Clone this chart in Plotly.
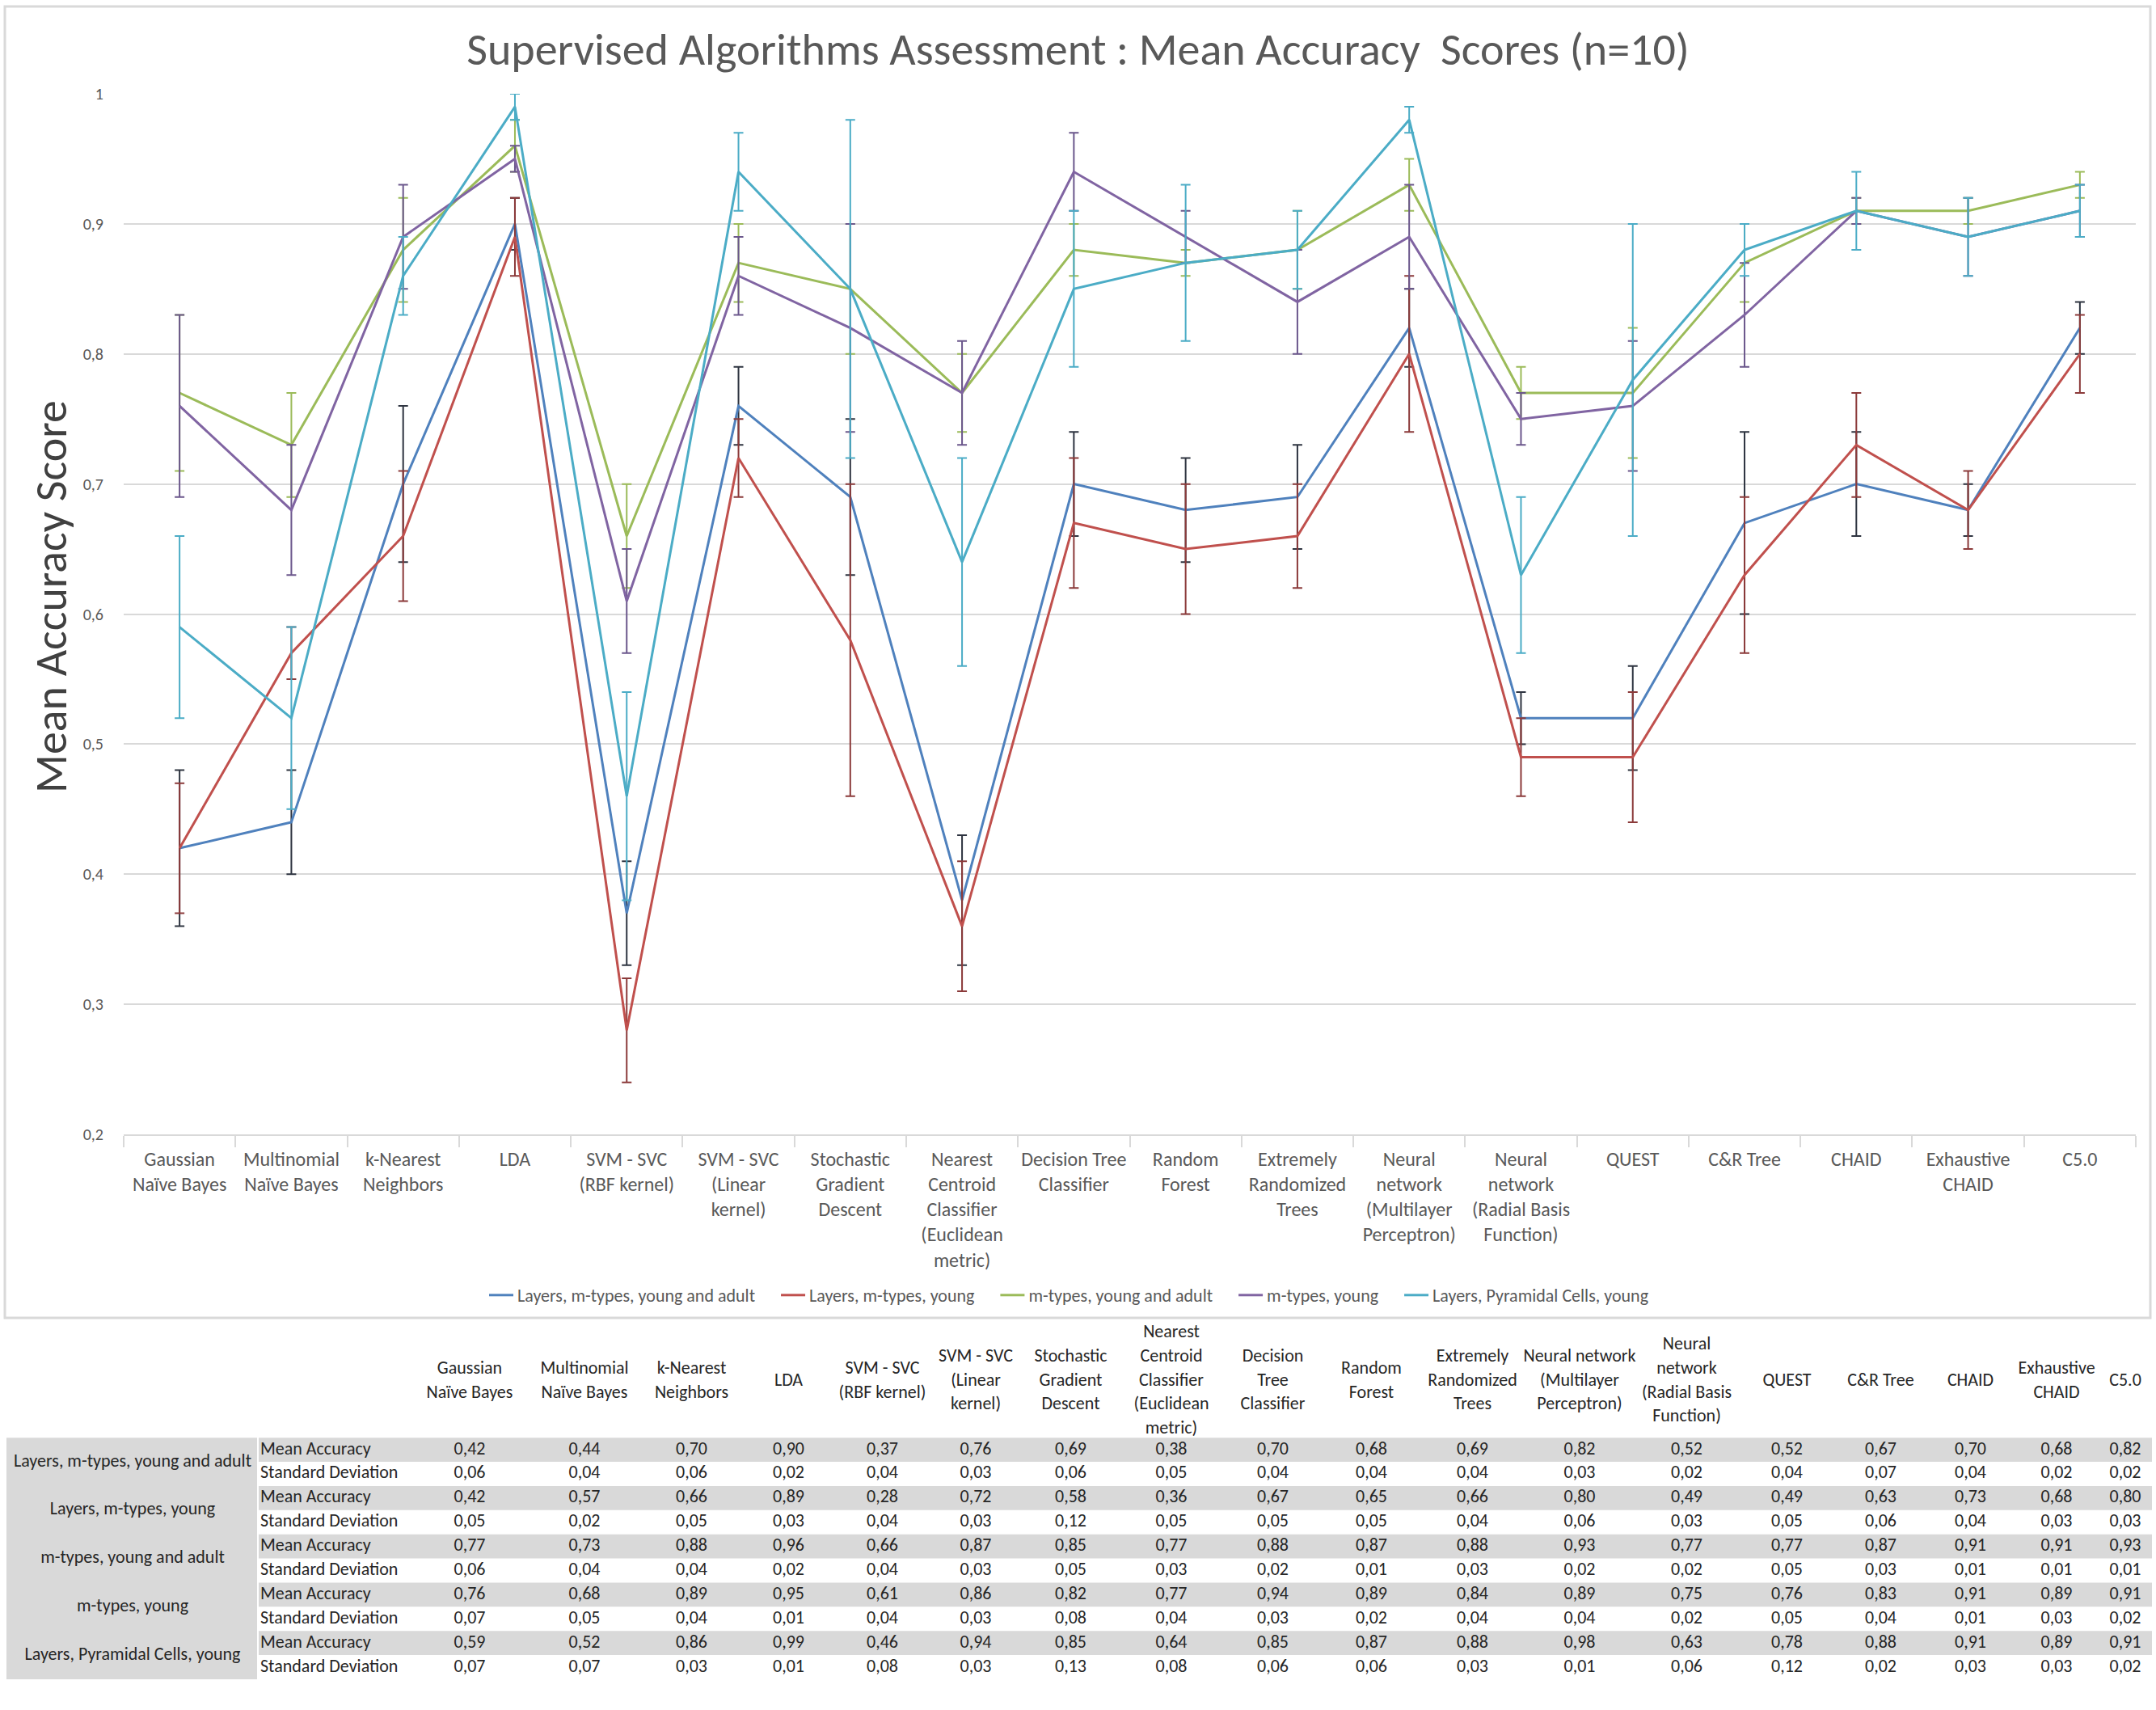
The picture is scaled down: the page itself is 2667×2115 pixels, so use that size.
import plotly.graph_objects as go

FONT = "Carlito, Lato, sans-serif"

# ---------------- data ----------------
algorithms = [
    "Gaussian Naïve Bayes", "Multinomial Naïve Bayes", "k-Nearest Neighbors", "LDA",
    "SVM - SVC (RBF kernel)", "SVM - SVC (Linear kernel)", "Stochastic Gradient Descent",
    "Nearest Centroid Classifier (Euclidean metric)", "Decision Tree Classifier",
    "Random Forest", "Extremely Randomized Trees", "Neural network (Multilayer Perceptron)",
    "Neural network (Radial Basis Function)", "QUEST", "C&R Tree", "CHAID",
    "Exhaustive CHAID", "C5.0",
]

# tick labels under the chart
chart_labels = [
    "Gaussian<br>Naïve Bayes", "Multinomial<br>Naïve Bayes", "k-Nearest<br>Neighbors", "LDA",
    "SVM - SVC<br>(RBF kernel)", "SVM - SVC<br>(Linear<br>kernel)", "Stochastic<br>Gradient<br>Descent",
    "Nearest<br>Centroid<br>Classifier<br>(Euclidean<br>metric)", "Decision Tree<br>Classifier",
    "Random<br>Forest", "Extremely<br>Randomized<br>Trees", "Neural<br>network<br>(Multilayer<br>Perceptron)",
    "Neural<br>network<br>(Radial Basis<br>Function)", "QUEST", "C&R Tree", "CHAID",
    "Exhaustive<br>CHAID", "C5.0",
]

# column headers of the table
table_headers = [
    "Gaussian<br>Naïve Bayes", "Multinomial<br>Naïve Bayes", "k-Nearest<br>Neighbors", "LDA",
    "SVM - SVC<br>(RBF kernel)", "SVM - SVC<br>(Linear<br>kernel)", "Stochastic<br>Gradient<br>Descent",
    "Nearest<br>Centroid<br>Classifier<br>(Euclidean<br>metric)", "Decision<br>Tree<br>Classifier",
    "Random<br>Forest", "Extremely<br>Randomized<br>Trees", "Neural network<br>(Multilayer<br>Perceptron)",
    "Neural<br>network<br>(Radial Basis<br>Function)", "QUEST", "C&R Tree", "CHAID",
    "Exhaustive<br>CHAID", "C5.0",
]

series_names = [
    "Layers, m-types, young and adult",
    "Layers, m-types, young",
    "m-types, young and adult",
    "m-types, young",
    "Layers, Pyramidal Cells, young",
]

mean_layers_mtypes_young_adult = [0.42, 0.44, 0.70, 0.90, 0.37, 0.76, 0.69, 0.38, 0.70,
                                  0.68, 0.69, 0.82, 0.52, 0.52, 0.67, 0.70, 0.68, 0.82]
std_layers_mtypes_young_adult = [0.06, 0.04, 0.06, 0.02, 0.04, 0.03, 0.06, 0.05, 0.04,
                                 0.04, 0.04, 0.03, 0.02, 0.04, 0.07, 0.04, 0.02, 0.02]

mean_layers_mtypes_young = [0.42, 0.57, 0.66, 0.89, 0.28, 0.72, 0.58, 0.36, 0.67,
                            0.65, 0.66, 0.80, 0.49, 0.49, 0.63, 0.73, 0.68, 0.80]
std_layers_mtypes_young = [0.05, 0.02, 0.05, 0.03, 0.04, 0.03, 0.12, 0.05, 0.05,
                           0.05, 0.04, 0.06, 0.03, 0.05, 0.06, 0.04, 0.03, 0.03]

mean_mtypes_young_adult = [0.77, 0.73, 0.88, 0.96, 0.66, 0.87, 0.85, 0.77, 0.88,
                           0.87, 0.88, 0.93, 0.77, 0.77, 0.87, 0.91, 0.91, 0.93]
std_mtypes_young_adult = [0.06, 0.04, 0.04, 0.02, 0.04, 0.03, 0.05, 0.03, 0.02,
                          0.01, 0.03, 0.02, 0.02, 0.05, 0.03, 0.01, 0.01, 0.01]

mean_mtypes_young = [0.76, 0.68, 0.89, 0.95, 0.61, 0.86, 0.82, 0.77, 0.94,
                     0.89, 0.84, 0.89, 0.75, 0.76, 0.83, 0.91, 0.89, 0.91]
std_mtypes_young = [0.07, 0.05, 0.04, 0.01, 0.04, 0.03, 0.08, 0.04, 0.03,
                    0.02, 0.04, 0.04, 0.02, 0.05, 0.04, 0.01, 0.03, 0.02]

mean_layers_pyramidal_young = [0.59, 0.52, 0.86, 0.99, 0.46, 0.94, 0.85, 0.64, 0.85,
                               0.87, 0.88, 0.98, 0.63, 0.78, 0.88, 0.91, 0.89, 0.91]
std_layers_pyramidal_young = [0.07, 0.07, 0.03, 0.01, 0.08, 0.03, 0.13, 0.08, 0.06,
                              0.06, 0.03, 0.01, 0.06, 0.12, 0.02, 0.03, 0.03, 0.02]

means = [mean_layers_mtypes_young_adult, mean_layers_mtypes_young,
         mean_mtypes_young_adult, mean_mtypes_young, mean_layers_pyramidal_young]
stds = [std_layers_mtypes_young_adult, std_layers_mtypes_young,
        std_mtypes_young_adult, std_mtypes_young, std_layers_pyramidal_young]

row_types = ["Mean Accuracy", "Standard Deviation"]
y_ticks = [0.2, 0.3, 0.4, 0.5, 0.6, 0.7, 0.8, 0.9, 1.0]

# ---------------- styles ----------------
line_colors = ["#4f81bd", "#c0504d", "#9bbb59", "#8064a2", "#4bacc6"]
err_colors = ["#2e3440", "#8b3a3a", "#9bbb59", "#6b578c", "#4bacc6"]
GRID = "#d9d9d9"
TXT = "#595959"
TBL_TXT = "#262626"

W, H = 2667, 2115

# table geometry (pixels across, rows down)
label_w, type_w = 312, 189
value_w = [144, 140, 125, 115, 117, 114, 121, 128, 123, 121, 129, 136, 129, 119, 113, 109, 104, 66]
table_left = 8
header_h = 4.69
line_step = 1.0
n_rows = 2 * len(series_names)
tbl_font = dict(family=FONT, size=22, color=TBL_TXT)


def fmt(v):
    return f"{v:.2f}".replace(".", ",")


fig = go.Figure()

# ---------------- chart ----------------
for name, m, s, col, ecol in zip(series_names, means, stds, line_colors, err_colors):
    fig.add_trace(go.Scatter(
        x=chart_labels, y=m, name=name + "\u2003", mode="lines",
        line=dict(color=col, width=3),
        error_y=dict(type="data", array=s, visible=True, color=ecol, thickness=2, width=6),
        xaxis="x", yaxis="y",
    ))

# ---------------- table ----------------
type_x0 = table_left + label_w
val_x0 = type_x0 + type_w
edges = [val_x0]
for w in value_w:
    edges.append(edges[-1] + w)
centers = [(a + b) / 2 for a, b in zip(edges[:-1], edges[1:])]

shapes = []
# group label column
shapes.append(dict(type="rect", xref="x2", yref="y2", x0=table_left, x1=type_x0 - 2,
                   y0=0, y1=n_rows, fillcolor=GRID, line=dict(width=0), layer="below"))
for i in range(len(series_names)):
    shapes.append(dict(type="rect", xref="x2", yref="y2", x0=type_x0, x1=edges[-1],
                       y0=2 * i, y1=2 * i + 1, fillcolor=GRID, line=dict(width=0), layer="below"))

# chart border
shapes.append(dict(type="rect", xref="paper", yref="paper",
                   x0=6 / W, x1=2660 / W, y0=1 - 1630 / H, y1=1 - 8 / H,
                   line=dict(color=GRID, width=3), fillcolor="rgba(0,0,0,0)"))

# values
vx, vy, vt = [], [], []
for i in range(len(series_names)):
    for r, arr in enumerate([means[i], stds[i]]):
        for j, v in enumerate(arr):
            vx.append(centers[j])
            vy.append(2 * i + r + 0.5)
            vt.append(fmt(v))
fig.add_trace(go.Scatter(x=vx, y=vy, text=vt, mode="text", textposition="middle center",
                         textfont=tbl_font, showlegend=False, hoverinfo="skip",
                         xaxis="x2", yaxis="y2", cliponaxis=False))

# row type labels
tx, ty, tt = [], [], []
for i in range(len(series_names)):
    for r, lab in enumerate(row_types):
        tx.append(type_x0 + 2)
        ty.append(2 * i + r + 0.5)
        tt.append(lab)
fig.add_trace(go.Scatter(x=tx, y=ty, text=tt, mode="text", textposition="middle right",
                         textfont=tbl_font, showlegend=False, hoverinfo="skip",
                         xaxis="x2", yaxis="y2", cliponaxis=False))

# group labels
fig.add_trace(go.Scatter(x=[table_left + label_w / 2] * len(series_names),
                         y=[2 * i + 1 for i in range(len(series_names))],
                         text=series_names, mode="text", textposition="middle center",
                         textfont=tbl_font, showlegend=False, hoverinfo="skip",
                         xaxis="x2", yaxis="y2", cliponaxis=False))

# headers, one point per line
hx, hy, ht = [], [], []
for j, head in enumerate(table_headers):
    lines = head.split("<br>")
    n = len(lines)
    for k, ln in enumerate(lines):
        hx.append(centers[j])
        hy.append(-header_h / 2 + (k - (n - 1) / 2) * line_step)
        ht.append(ln)
fig.add_trace(go.Scatter(x=hx, y=hy, text=ht, mode="text", textposition="middle center",
                         textfont=tbl_font, showlegend=False, hoverinfo="skip",
                         xaxis="x2", yaxis="y2", cliponaxis=False))

fig.update_layout(
    width=W, height=H,
    margin=dict(l=0, r=0, t=0, b=0, pad=0),
    paper_bgcolor="white", plot_bgcolor="white",
    separators=", ",
    font=dict(family=FONT, color=TXT),
    title=dict(text="Supervised Algorithms Assessment : Mean Accuracy  Scores (n=10)",
               x=0.5, xanchor="center", y=1 - 60 / H, yanchor="middle",
               font=dict(family=FONT, size=56, color=TXT, weight=300)),
    showlegend=True,
    legend=dict(orientation="h", x=0.5, xanchor="center", y=1 - 1602 / H, yanchor="middle",
                font=dict(family=FONT, size=22, color=TXT), bgcolor="rgba(0,0,0,0)"),
    xaxis=dict(domain=[153 / W, 2642 / W], type="category", range=[-0.5, 17.5],
               showline=True, linecolor=GRID, linewidth=2, showgrid=False,
               ticks="outside", tickson="boundaries", ticklen=14, tickcolor=GRID, tickwidth=2,
               ticklabelstandoff=8,
               tickfont=dict(family=FONT, size=24, color=TXT), tickangle=0,
               anchor="y", fixedrange=True, automargin=False),
    yaxis=dict(domain=[1 - 1403 / H, 1 - 116 / H], range=[0.2, 1.0], tickvals=y_ticks,
               showgrid=True, gridcolor=GRID, gridwidth=2, zeroline=False, showline=False,
               ticklabelstandoff=24, tickfont=dict(family=FONT, size=20, color=TXT),
               anchor="x", fixedrange=True, automargin=False),
    xaxis2=dict(domain=[0, 1], range=[0, W], visible=False, anchor="y2",
                fixedrange=True, automargin=False),
    yaxis2=dict(domain=[1 - 2077 / H, 1 - 1638 / H], range=[n_rows, -header_h],
                visible=False, anchor="x2", fixedrange=True, automargin=False),
    shapes=shapes,
    annotations=[dict(text="Mean Accuracy Score", xref="paper", yref="paper",
                      x=63 / W, y=1 - 738 / H, textangle=-90, showarrow=False,
                      xanchor="center", yanchor="middle",
                      font=dict(family=FONT, size=56, color="#404040"))],
)

fig.write_html("out.html", config={"displayModeBar": False},
               post_script="document.body.style.margin='0';")
